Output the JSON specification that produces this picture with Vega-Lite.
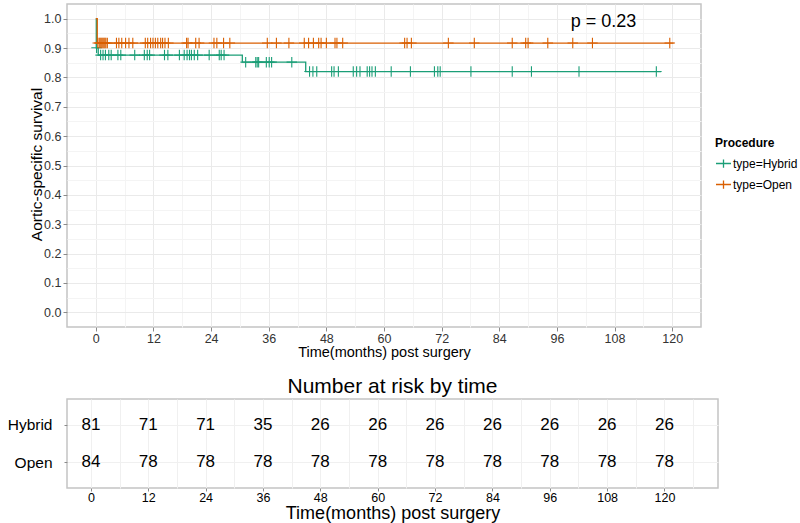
{
  "$schema": "https://vega.github.io/schema/vega-lite/v6.json",
  "padding": {"left": 2, "top": 3, "right": 0, "bottom": 0},
  "background": "white",
  "config": {
    "font": "Liberation Sans",
    "view": {"stroke": "#C4C4C4", "strokeWidth": 1.5},
    "axis": {"labelFont": "Liberation Sans", "titleFont": "Liberation Sans", "labelColor": "#333333", "titleColor": "#000000", "titleFontWeight": "normal", "domain": false, "tickColor": "#8a8a8a", "tickSize": 4, "labelFontSize": 12.5},
    "legend": {"labelFont": "Liberation Sans", "titleFont": "Liberation Sans"}
  },
  "datasets": {
    "curves": [
      {"type": "type=Hybrid", "time": 0, "surv": 1.0},
      {"type": "type=Hybrid", "time": 0.1, "surv": 0.901},
      {"type": "type=Hybrid", "time": 0.5, "surv": 0.876},
      {"type": "type=Hybrid", "time": 30.5, "surv": 0.852},
      {"type": "type=Hybrid", "time": 43.7, "surv": 0.82},
      {"type": "type=Hybrid", "time": 117.7, "surv": 0.82},
      {"type": "type=Open", "time": 0, "surv": 1.0},
      {"type": "type=Open", "time": 0.3, "surv": 0.917},
      {"type": "type=Open", "time": 120.3, "surv": 0.917}
    ],
    "censors": [
      {"type": "type=Hybrid", "time": 0.15, "surv": 0.901},
      {"type": "type=Hybrid", "time": 1.0, "surv": 0.876},
      {"type": "type=Hybrid", "time": 1.5, "surv": 0.876},
      {"type": "type=Hybrid", "time": 2.0, "surv": 0.876},
      {"type": "type=Hybrid", "time": 2.7, "surv": 0.876},
      {"type": "type=Hybrid", "time": 3.2, "surv": 0.876},
      {"type": "type=Hybrid", "time": 4.6, "surv": 0.876},
      {"type": "type=Hybrid", "time": 5.2, "surv": 0.876},
      {"type": "type=Hybrid", "time": 8.1, "surv": 0.876},
      {"type": "type=Hybrid", "time": 10.1, "surv": 0.876},
      {"type": "type=Hybrid", "time": 10.7, "surv": 0.876},
      {"type": "type=Hybrid", "time": 11.2, "surv": 0.876},
      {"type": "type=Hybrid", "time": 14.3, "surv": 0.876},
      {"type": "type=Hybrid", "time": 15.0, "surv": 0.876},
      {"type": "type=Hybrid", "time": 17.4, "surv": 0.876},
      {"type": "type=Hybrid", "time": 18.4, "surv": 0.876},
      {"type": "type=Hybrid", "time": 19.0, "surv": 0.876},
      {"type": "type=Hybrid", "time": 19.5, "surv": 0.876},
      {"type": "type=Hybrid", "time": 19.9, "surv": 0.876},
      {"type": "type=Hybrid", "time": 20.5, "surv": 0.876},
      {"type": "type=Hybrid", "time": 21.2, "surv": 0.876},
      {"type": "type=Hybrid", "time": 23.6, "surv": 0.876},
      {"type": "type=Hybrid", "time": 25.7, "surv": 0.876},
      {"type": "type=Hybrid", "time": 26.1, "surv": 0.876},
      {"type": "type=Hybrid", "time": 26.7, "surv": 0.876},
      {"type": "type=Hybrid", "time": 31.2, "surv": 0.852},
      {"type": "type=Hybrid", "time": 33.3, "surv": 0.852},
      {"type": "type=Hybrid", "time": 33.6, "surv": 0.852},
      {"type": "type=Hybrid", "time": 33.9, "surv": 0.852},
      {"type": "type=Hybrid", "time": 35.5, "surv": 0.852},
      {"type": "type=Hybrid", "time": 36.1, "surv": 0.852},
      {"type": "type=Hybrid", "time": 36.6, "surv": 0.852},
      {"type": "type=Hybrid", "time": 40.8, "surv": 0.852},
      {"type": "type=Hybrid", "time": 44.5, "surv": 0.82},
      {"type": "type=Hybrid", "time": 45.2, "surv": 0.82},
      {"type": "type=Hybrid", "time": 46.0, "surv": 0.82},
      {"type": "type=Hybrid", "time": 49.1, "surv": 0.82},
      {"type": "type=Hybrid", "time": 49.6, "surv": 0.82},
      {"type": "type=Hybrid", "time": 50.5, "surv": 0.82},
      {"type": "type=Hybrid", "time": 53.6, "surv": 0.82},
      {"type": "type=Hybrid", "time": 54.3, "surv": 0.82},
      {"type": "type=Hybrid", "time": 55.0, "surv": 0.82},
      {"type": "type=Hybrid", "time": 56.5, "surv": 0.82},
      {"type": "type=Hybrid", "time": 57.0, "surv": 0.82},
      {"type": "type=Hybrid", "time": 57.5, "surv": 0.82},
      {"type": "type=Hybrid", "time": 58.2, "surv": 0.82},
      {"type": "type=Hybrid", "time": 61.5, "surv": 0.82},
      {"type": "type=Hybrid", "time": 65.5, "surv": 0.82},
      {"type": "type=Hybrid", "time": 70.5, "surv": 0.82},
      {"type": "type=Hybrid", "time": 71.2, "surv": 0.82},
      {"type": "type=Hybrid", "time": 71.7, "surv": 0.82},
      {"type": "type=Hybrid", "time": 78.1, "surv": 0.82},
      {"type": "type=Hybrid", "time": 86.7, "surv": 0.82},
      {"type": "type=Hybrid", "time": 90.7, "surv": 0.82},
      {"type": "type=Hybrid", "time": 100.6, "surv": 0.82},
      {"type": "type=Hybrid", "time": 116.7, "surv": 0.82},
      {"type": "type=Open", "time": 0.4, "surv": 0.917},
      {"type": "type=Open", "time": 0.7, "surv": 0.917},
      {"type": "type=Open", "time": 0.9, "surv": 0.917},
      {"type": "type=Open", "time": 1.1, "surv": 0.917},
      {"type": "type=Open", "time": 1.3, "surv": 0.917},
      {"type": "type=Open", "time": 1.5, "surv": 0.917},
      {"type": "type=Open", "time": 1.7, "surv": 0.917},
      {"type": "type=Open", "time": 1.9, "surv": 0.917},
      {"type": "type=Open", "time": 2.1, "surv": 0.917},
      {"type": "type=Open", "time": 2.4, "surv": 0.917},
      {"type": "type=Open", "time": 4.3, "surv": 0.917},
      {"type": "type=Open", "time": 4.8, "surv": 0.917},
      {"type": "type=Open", "time": 5.4, "surv": 0.917},
      {"type": "type=Open", "time": 6.2, "surv": 0.917},
      {"type": "type=Open", "time": 6.9, "surv": 0.917},
      {"type": "type=Open", "time": 7.7, "surv": 0.917},
      {"type": "type=Open", "time": 10.3, "surv": 0.917},
      {"type": "type=Open", "time": 10.8, "surv": 0.917},
      {"type": "type=Open", "time": 11.4, "surv": 0.917},
      {"type": "type=Open", "time": 11.9, "surv": 0.917},
      {"type": "type=Open", "time": 12.4, "surv": 0.917},
      {"type": "type=Open", "time": 12.9, "surv": 0.917},
      {"type": "type=Open", "time": 13.5, "surv": 0.917},
      {"type": "type=Open", "time": 13.9, "surv": 0.917},
      {"type": "type=Open", "time": 14.4, "surv": 0.917},
      {"type": "type=Open", "time": 15.1, "surv": 0.917},
      {"type": "type=Open", "time": 18.9, "surv": 0.917},
      {"type": "type=Open", "time": 19.2, "surv": 0.917},
      {"type": "type=Open", "time": 20.8, "surv": 0.917},
      {"type": "type=Open", "time": 21.5, "surv": 0.917},
      {"type": "type=Open", "time": 24.6, "surv": 0.917},
      {"type": "type=Open", "time": 25.2, "surv": 0.917},
      {"type": "type=Open", "time": 26.6, "surv": 0.917},
      {"type": "type=Open", "time": 27.9, "surv": 0.917},
      {"type": "type=Open", "time": 35.7, "surv": 0.917},
      {"type": "type=Open", "time": 37.6, "surv": 0.917},
      {"type": "type=Open", "time": 40.2, "surv": 0.917},
      {"type": "type=Open", "time": 43.4, "surv": 0.917},
      {"type": "type=Open", "time": 44.3, "surv": 0.917},
      {"type": "type=Open", "time": 45.3, "surv": 0.917},
      {"type": "type=Open", "time": 46.4, "surv": 0.917},
      {"type": "type=Open", "time": 46.9, "surv": 0.917},
      {"type": "type=Open", "time": 48.0, "surv": 0.917},
      {"type": "type=Open", "time": 49.8, "surv": 0.917},
      {"type": "type=Open", "time": 50.2, "surv": 0.917},
      {"type": "type=Open", "time": 51.4, "surv": 0.917},
      {"type": "type=Open", "time": 64.3, "surv": 0.917},
      {"type": "type=Open", "time": 64.8, "surv": 0.917},
      {"type": "type=Open", "time": 65.7, "surv": 0.917},
      {"type": "type=Open", "time": 73.4, "surv": 0.917},
      {"type": "type=Open", "time": 78.8, "surv": 0.917},
      {"type": "type=Open", "time": 86.7, "surv": 0.917},
      {"type": "type=Open", "time": 89.5, "surv": 0.917},
      {"type": "type=Open", "time": 90.0, "surv": 0.917},
      {"type": "type=Open", "time": 94.1, "surv": 0.917},
      {"type": "type=Open", "time": 99.3, "surv": 0.917},
      {"type": "type=Open", "time": 103.4, "surv": 0.917},
      {"type": "type=Open", "time": 119.5, "surv": 0.917}
    ],
    "annot": [{"label": "p = 0.23", "time": 105.7, "surv": 0.99}],
    "risk": [
      {"group": "Hybrid", "time": 0, "n": 81},
      {"group": "Hybrid", "time": 12, "n": 71},
      {"group": "Hybrid", "time": 24, "n": 71},
      {"group": "Hybrid", "time": 36, "n": 35},
      {"group": "Hybrid", "time": 48, "n": 26},
      {"group": "Hybrid", "time": 60, "n": 26},
      {"group": "Hybrid", "time": 72, "n": 26},
      {"group": "Hybrid", "time": 84, "n": 26},
      {"group": "Hybrid", "time": 96, "n": 26},
      {"group": "Hybrid", "time": 108, "n": 26},
      {"group": "Hybrid", "time": 120, "n": 26},
      {"group": "Open", "time": 0, "n": 84},
      {"group": "Open", "time": 12, "n": 78},
      {"group": "Open", "time": 24, "n": 78},
      {"group": "Open", "time": 36, "n": 78},
      {"group": "Open", "time": 48, "n": 78},
      {"group": "Open", "time": 60, "n": 78},
      {"group": "Open", "time": 72, "n": 78},
      {"group": "Open", "time": 84, "n": 78},
      {"group": "Open", "time": 96, "n": 78},
      {"group": "Open", "time": 108, "n": 78},
      {"group": "Open", "time": 120, "n": 78}
    ]
  },
  "spacing": 15,
  "columns": 1,
  "resolve": {"scale": {"x": "independent", "y": "independent"}, "axis": {"x": "independent", "y": "independent"}},
  "concat": [
    {
      "width": 634,
      "height": 323,
      "encoding": {
        "x": {"field": "time", "type": "quantitative",
          "scale": {"domain": [-6, 126], "nice": false, "zero": false},
          "axis": {
            "values": [0, 6, 12, 18, 24, 30, 36, 42, 48, 54, 60, 66, 72, 78, 84, 90, 96, 102, 108, 114, 120],
            "labelExpr": "datum.value % 12 == 0 ? datum.label : ''",
            "tickOpacity": {"condition": {"test": "datum.value % 12 != 0", "value": 0}, "value": 1},
            "gridColor": {"condition": {"test": "datum.value % 12 != 0", "value": "#F4F4F4"}, "value": "#EAEAEA"},
            "title": "Time(months) post surgery", "titleFontSize": 14.5, "titlePadding": 1, "labelPadding": 1
          }
        },
        "y": {"field": "surv", "type": "quantitative",
          "scale": {"domain": [-0.05, 1.05], "nice": false, "zero": false},
          "axis": {
            "values": [0, 0.05, 0.1, 0.15, 0.2, 0.25, 0.3, 0.35, 0.4, 0.45, 0.5, 0.55, 0.6, 0.65, 0.7, 0.75, 0.8, 0.85, 0.9, 0.95, 1.0],
            "labelExpr": "round(datum.value*100) % 10 == 0 ? format(datum.value, '.1f') : ''",
            "tickOpacity": {"condition": {"test": "round(datum.value*100) % 10 != 0", "value": 0}, "value": 1},
            "gridColor": {"condition": {"test": "round(datum.value*100) % 10 != 0", "value": "#F4F4F4"}, "value": "#EAEAEA"},
            "title": "Aortic-specific survival", "titleFontSize": 15.5,
            "titleX": -31, "titleY": 160, "titleAngle": 270, "titleBaseline": "middle", "titleAlign": "center",
            "labelPadding": 2, "minExtent": 64, "maxExtent": 64
          }
        }
      },
      "layer": [
        {
          "data": {"name": "curves"},
          "mark": {"type": "line", "interpolate": "step-after", "strokeWidth": 1.3},
          "encoding": {
            "color": {"field": "type", "type": "nominal",
              "scale": {"domain": ["type=Hybrid", "type=Open"], "range": ["#1B9E77", "#D95F02"]},
              "legend": {"title": "Procedure", "orient": "none", "legendX": 648, "legendY": 134,
                "symbolType": "M-1,0H1M0,-0.55V0.55", "symbolSize": 225, "symbolStrokeWidth": 1.3,
                "titleFontSize": 12, "titleFontWeight": "bold", "titleColor": "#000000", "labelFontSize": 12, "labelColor": "#000000",
                "titlePadding": 5, "rowPadding": 5, "padding": 0, "labelOffset": 1}
            }
          }
        },
        {
          "data": {"name": "censors"},
          "mark": {"type": "point", "shape": "M-1,0H1M0,-1V1", "filled": false, "size": 110, "strokeWidth": 1.1, "opacity": 1},
          "encoding": {
            "color": {"field": "type", "type": "nominal"}
          }
        },
        {
          "data": {"name": "annot"},
          "mark": {"type": "text", "fontSize": 18, "font": "Liberation Sans", "color": "#000000"},
          "encoding": {"text": {"field": "label"}}
        }
      ]
    },
    {
      "width": 651,
      "height": 89,
      "title": {"text": "Number at risk by time", "fontSize": 21, "fontWeight": "normal", "font": "Liberation Sans", "color": "#000000", "offset": 2},
      "data": {"name": "risk"},
      "mark": {"type": "text", "fontSize": 17, "font": "Liberation Sans", "color": "#000000"},
      "encoding": {
        "x": {"field": "time", "type": "quantitative",
          "scale": {"domain": [-5, 131.2], "nice": false, "zero": false},
          "axis": {
            "values": [0, 6, 12, 18, 24, 30, 36, 42, 48, 54, 60, 66, 72, 78, 84, 90, 96, 102, 108, 114, 120, 126],
            "labelExpr": "datum.value % 12 == 0 ? datum.label : ''",
            "tickOpacity": {"condition": {"test": "datum.value % 12 != 0", "value": 0}, "value": 1},
            "gridColor": "#F0F0F0",
            "tickSize": 3,
            "title": "Time(months) post surgery", "titleFontSize": 18, "titlePadding": 1, "labelPadding": 0, "labelColor": "#000000"
          }
        },
        "y": {"field": "group", "type": "nominal", "sort": ["Hybrid", "Open"],
          "scale": {"type": "point", "padding": 0.68},
          "axis": {"title": null, "labelFontSize": 15.5, "labelColor": "#000000", "labelPadding": 12, "tickSize": 3, "grid": true, "gridColor": "#F0F0F0"}
        },
        "text": {"field": "n", "type": "quantitative"}
      }
    }
  ]
}
